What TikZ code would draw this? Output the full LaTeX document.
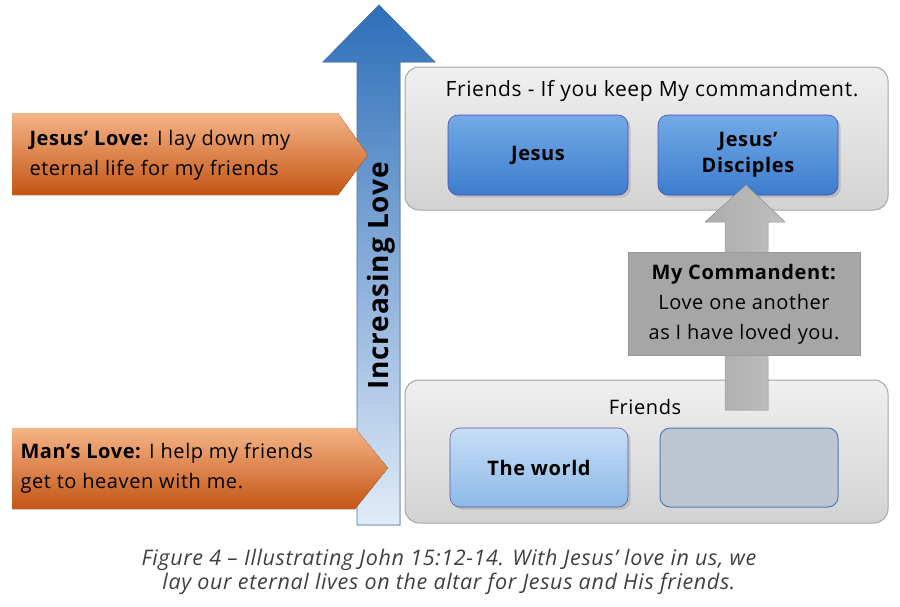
\documentclass[tikz,border=0pt]{standalone}
\usepackage{fontspec}
\setmainfont{Open Sans}[LetterSpace=3]
\usetikzlibrary{shapes.arrows,shadows}
\definecolor{capc}{HTML}{404040}
\begin{document}
\begin{tikzpicture}[x=1pt,y=-1pt,
  graybox/.style={draw=gray!70,rounded corners=14pt,top color=gray!12,bottom color=gray!35,line width=1pt},
  bluebox/.style={draw=blue!40!gray,rounded corners=10pt,top color={rgb,255:red,115;green,170;blue,230},bottom color={rgb,255:red,60;green,125;blue,205},line width=0.6pt,drop shadow={opacity=0.3}},
  lbluebox/.style={draw=blue!30!gray,rounded corners=10pt,top color={rgb,255:red,200;green,222;blue,245},bottom color={rgb,255:red,140;green,185;blue,232},line width=0.6pt,drop shadow={opacity=0.3}},
  orange/.style={draw=none,top color={rgb,255:red,245;green,180;blue,135},bottom color={rgb,255:red,195;green,85;blue,20}},
  txt/.style={font=\fontsize{20}{30}\selectfont,text=black},
  btxt/.style={font=\fontsize{20}{26}\selectfont\bfseries,text=black,align=center}]
\useasboundingbox (0,0) rectangle (900,606);
% big arrow
\fill[top color={rgb,255:red,45;green,110;blue,185},bottom color={rgb,255:red,225;green,235;blue,248},draw={rgb,255:red,70;green,120;blue,180},line width=0.8pt]
 (357,525) -- (357,62) -- (323,62) -- (379,5) -- (435,62) -- (400,62) -- (400,525) -- cycle;
\node[rotate=90,font=\fontsize{28}{32}\selectfont\bfseries] (il) at (381,276) {Increasing Love};
% upper box
\draw[graybox] (405,67) rectangle (888,210);
\node[font=\fontsize{21}{30}\selectfont] (t1) at (652,91) {Friends - If you keep My commandment.};
\draw[bluebox] (448,115) rectangle node[btxt] (j) {Jesus} (628,195);
\draw[bluebox] (658,115) rectangle node[btxt] (jd) {Jesus'\\Disciples} (838,195);
% lower box
\draw[graybox] (405,380) rectangle (888,523);
\node[txt] (t2) at (645,407) {Friends};
\draw[lbluebox] (450,428) rectangle node[btxt] (w) {The world} (628,507);
\draw[draw={rgb,255:red,75;green,125;blue,185},rounded corners=10pt,fill={rgb,255:red,190;green,198;blue,210},line width=1pt] (660,428) rectangle (838,507);
% gray arrow
\fill[left color=gray!65,right color=gray!50,draw=gray!80]
 (725,410) -- (725,222) -- (705,222) -- (746,185) -- (785,222) -- (768,222) -- (768,410) -- cycle;
\node[fill=gray!70,draw=gray!80,minimum width=232pt,minimum height=103pt,inner sep=0pt,align=center,font=\fontsize{20}{30}\selectfont] (mc) at (744,304) {\textbf{My Commandent:}\\Love one another\\as I have loved you.};
% orange arrows
\fill[orange] (12,113) -- (338,113) -- (368,155) -- (338,195) -- (12,195) -- cycle;
\node[txt,anchor=west,align=left] (jl) at (26,155) {\textbf{Jesus' Love:} I lay down my\\eternal life for my friends};
\fill[orange] (12,428) -- (355,428) -- (388,468) -- (355,509) -- (12,509) -- cycle;
\node[txt,anchor=west,align=left] (ml) at (17,468) {\textbf{Man's Love:} I help my friends\\get to heaven with me.};
% caption
\node[font=\fontsize{21.5}{24}\selectfont\itshape,text=capc,align=center] (cap) at (449,572) {Figure 4 -- Illustrating John 15:12-14. With Jesus' love in us, we\\lay our eternal lives on the altar for Jesus and His friends.};
\end{tikzpicture}
\end{document}
